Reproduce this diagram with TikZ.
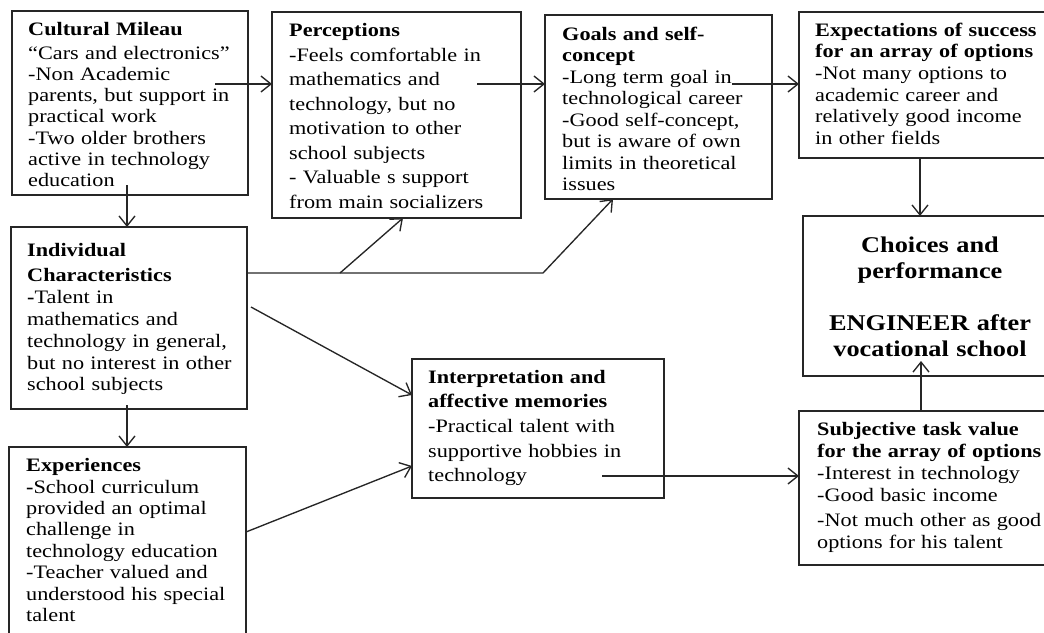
\documentclass[tikz,border=0pt]{standalone}
\usepackage{fontspec}
\setmainfont{Liberation Serif}[FakeStretch=1.17]
\usetikzlibrary{arrows.meta}

\begin{document}
\begin{tikzpicture}[x=1pt,y=-1pt,
  panel/.style={draw=black!85, line width=1.7pt, anchor=north west, inner sep=0pt, outer sep=0pt},
  txt/.style={inner sep=0pt, anchor=base west, text width=330pt, align=left, text=black,
    font=\fontsize{19}{#1}\selectfont},
  txt/.default=21.6,
  arr/.style={line width=1.35pt, draw=black!85,
    -{Straight Barb[length=10pt,width=16pt,line width=1.35pt]}},
  link/.style={line width=1.35pt, draw=black!85}]

\useasboundingbox (0,0) rectangle (1044,632);
\clip (0,0) rectangle (1044,632);

% boxes
\node[panel, minimum width=236pt, minimum height=184pt] (cult)   at (12,11)  {};
\node[panel, minimum width=249pt, minimum height=206pt] (perc)   at (272,12) {};
\node[panel, minimum width=227pt, minimum height=184pt] (goals)  at (545,15) {};
\node[panel, minimum width=261pt, minimum height=146pt] (expe)   at (799,12) {};
\node[panel, minimum width=257pt, minimum height=160pt] (choice) at (803,216) {};
\node[panel, minimum width=236pt, minimum height=182pt] (indiv)  at (11,227) {};
\node[panel, minimum width=237pt, minimum height=200pt] (exper)  at (9,447) {};
\node[panel, minimum width=252pt, minimum height=139pt] (interp) at (412,359) {};
\node[panel, minimum width=261pt, minimum height=154pt] (subj)   at (799,411) {};

% texts
\node[txt=21.3] (cultT) at (28,35.7) {\textbf{Cultural Mileau}\\[2pt]
  “Cars and electronics”\\ -Non Academic\\ parents, but support in\\ practical work\\
  -Two older brothers\\ active in technology\\ education};
\node[txt=24.5] (percT) at (289,36.7) {\textbf{Perceptions}\\ -Feels comfortable in\\
  mathematics and\\ technology, but no\\ motivation to other\\ school subjects\\
  - Valuable s support\\ from main socializers};
\node[txt=21.5] (goalsT) at (562,40) {\textbf{Goals and self-}\\ \textbf{concept}\\
  -Long term goal in\\ technological career\\ -Good self-concept,\\
  but is aware of own\\ limits in theoretical\\ issues};
\node[txt=21.7] (expeT) at (815,36) {\textbf{Expectations of success}\\
  \textbf{for an array of options}\\ -Not many options to\\ academic career and\\
  relatively good income\\ in other fields};
\node[txt, anchor=base, text width=300pt, align=center,
  font=\fontsize{22.5}{26}\selectfont\bfseries] (choiceT) at (930,252)
  {Choices and\\ performance\\[26pt] ENGINEER after\\ vocational school};
\node[txt=21.8] (indivT) at (27,256) {\textbf{Individual}\\[4pt] \textbf{Characteristics}\\
  \textbf{-}Talent in\\ mathematics and\\ technology in general,\\
  but no interest in other\\ school subjects};
\node[txt=21.4] (experT) at (26,471.7) {\textbf{Experiences}\\ \textbf{-}School curriculum\\
  provided an optimal\\ challenge in\\ technology education\\ -Teacher valued and\\
  understood his special\\ talent};
\node[txt=24.7] (interpT) at (428,383) {\textbf{Interpretation and}\\
  \textbf{affective memories}\\ -Practical talent with\\ supportive hobbies in\\ technology};
\node[txt=22] (subjT) at (817,435) {\textbf{Subjective task value}\\
  \textbf{for the array of options}\\ -Interest in technology\\ -Good basic income\\[3pt]
  -Not much other as good\\ options for his talent};

% connectors
\coordinate (s1) at (215,84);
\draw[arr] (s1) -- (s1 -| perc.west);
\coordinate (s2) at (477,84);
\draw[arr] (s2) -- (s2 -| goals.west);
\coordinate (s3) at (732,84);
\draw[arr] (s3) -- (s3 -| expe.west);
\coordinate (s4) at (920,0);
\draw[arr] (s4 |- expe.south) -- (s4 |- choice.north);
\coordinate (s5) at (127,185);
\draw[arr] (s5) -- (s5 |- indiv.north);
\coordinate (s6) at (127,405);
\draw[arr] (s6) -- (s6 |- exper.north);

\coordinate (j1) at (340,273);
\coordinate (j2) at (543,273);
\coordinate (t1) at (403,0);
\coordinate (t2) at (613,0);
\draw[arr] (j1 -| indiv.east) -- (j2) -- (t2 |- goals.south);
\draw[arr] (j1) -- (t1 |- perc.south);

\coordinate (s8) at (251,307);
\coordinate (e8) at (0,395);
\draw[arr] (s8) -- (e8 -| interp.west);
\coordinate (s9) at (0,532);
\coordinate (e9) at (0,466);
\draw[arr] (s9 -| exper.east) -- (e9 -| interp.west);
\coordinate (s10) at (602,476);
\draw[arr] (s10) -- (s10 -| subj.west);
\coordinate (s11) at (921,361);
\draw[arr] (s11 |- subj.north) -- (s11);
\end{tikzpicture}
\end{document}
